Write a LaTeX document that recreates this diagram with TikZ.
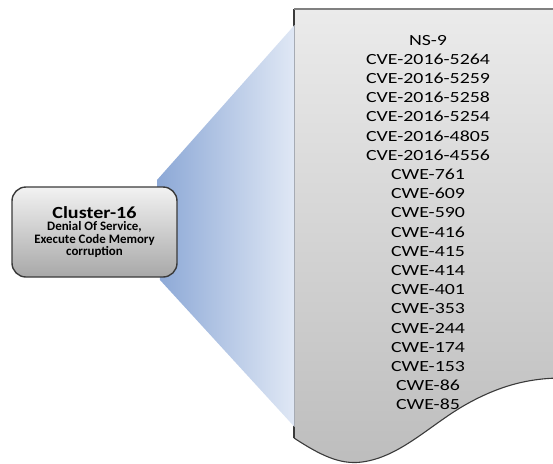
\documentclass[tikz,border=0pt]{standalone}
\usepackage{fontspec}
\setmainfont{Carlito}
\newfontfamily\listfont[FakeStretch=1.28]{Carlito}
\newfontfamily\clusterfont[FakeStretch=1.18]{Carlito}
\definecolor{fanL}{HTML}{8CA8D6}
\definecolor{fanR}{HTML}{E0E8F5}
\definecolor{docT}{HTML}{EBEBEB}
\definecolor{docB}{HTML}{BDBDBD}
\definecolor{boxT}{HTML}{F2F2F2}
\definecolor{boxB}{HTML}{A8A8A8}
\definecolor{edge}{HTML}{3A3A3A}
\definecolor{topedge}{HTML}{808080}
\tikzset{
  itemtext/.style={font=\listfont\fontsize{15.5}{18}\selectfont, anchor=base, inner sep=0pt, text=black},
  clusterbox/.style={draw=edge, line width=1.4pt, rounded corners=14pt, top color=boxT, bottom color=boxB,
    minimum width=165pt, minimum height=90pt, inner sep=0pt},
  docfill/.style={top color=docT, bottom color=docB},
  docedge/.style={draw=edge, line width=1.1pt},
  doctop/.style={draw=topedge, line width=1.6pt}
}
\begin{document}
\begin{tikzpicture}[x=1pt,y=-1pt]
\useasboundingbox (0,0) rectangle (553,463);
\clip (0,0) rectangle (553,463);
% document
\coordinate (dtl) at (294,9);
\coordinate (dtr) at (562,9);
\coordinate (dbl) at (294,438);
\coordinate (dbr) at (562,378);
\shade[docfill] (dbl) -- (dtl) -- (dtr) -- (dbr)
  .. controls (525,378) and (495,388) .. (465,405)
  .. controls (430,425) and (400,457) .. (362,462)
  .. controls (340,465) and (320,455) .. (dbl) -- cycle;
\draw[docedge] (dtl) -- (dbl);
\draw[docedge] (dbr)
  .. controls (525,378) and (495,388) .. (465,405)
  .. controls (430,425) and (400,457) .. (362,462)
  .. controls (340,465) and (320,455) .. (dbl);
\draw[doctop] (dtl) -- (dtr);
% fan (drawn over the document's left edge)
\coordinate (fa) at (157,180);
\coordinate (fb) at (294.6,25);
\coordinate (fc) at (294.6,427);
\coordinate (fd) at (160,280);
\shade[left color=fanL, right color=fanR] (fa) -- (fb) -- (fc) -- (fd) -- cycle;
% cluster box
\node[clusterbox] (cluster) at (94.5,232) {%
  \begin{minipage}{160pt}\centering
  {\clusterfont\bfseries\fontsize{17}{18}\selectfont Cluster-16\par}
  \vspace{0.3pt}
  {\bfseries\fontsize{12.9}{12.5}\selectfont Denial Of Service,\par Execute Code Memory\par corruption\par}
  \end{minipage}};
% list
\foreach \t [count=\i] in {NS-9,CVE-2016-5264,CVE-2016-5259,CVE-2016-5258,CVE-2016-5254,CVE-2016-4805,CVE-2016-4556,CWE-761,CWE-609,CWE-590,CWE-416,CWE-415,CWE-414,CWE-401,CWE-353,CWE-244,CWE-174,CWE-153,CWE-86,CWE-85}
  \node[itemtext] (item\i) at (428,{45+19.21*(\i-1)}) {\t};
\end{tikzpicture}
\end{document}
